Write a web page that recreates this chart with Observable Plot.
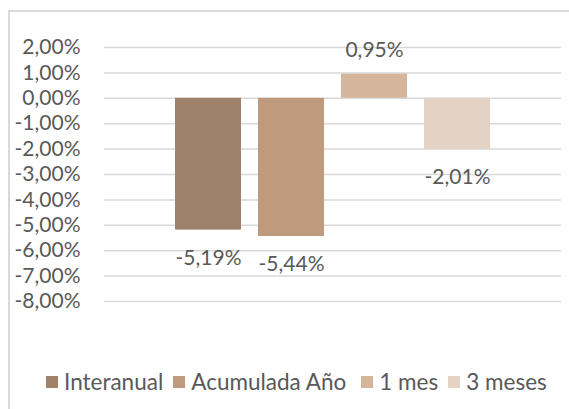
<!DOCTYPE html>
<html><head><meta charset="utf-8">
<script src="https://cdn.jsdelivr.net/npm/d3@7"></script>
<script src="https://cdn.jsdelivr.net/npm/@observablehq/plot@0.6"></script>
<style>
body{margin:0;background:#fff;font-family:Lato,sans-serif;overflow:hidden;}
#frame{position:absolute;left:8px;top:10px;width:600px;height:450px;border-left:2px solid #d9d9d9;border-top:2px solid #d9d9d9;}
#frame svg.chart{display:block;}
#legend{position:absolute;left:36px;top:356px;width:560px;}
#legend .leg-swatches{font-family:Lato,sans-serif;font-size:22.5px;color:#595959;min-height:0;flex-wrap:nowrap;}
#legend .leg-swatch{margin-right:10px;}
#legend .leg-swatch svg{margin-right:6px;}
#legend .leg-swatch:nth-child(3){margin-right:15px;}
</style></head><body><div id="frame"><div id="chart"></div><div id="legend"></div></div><script>
const series = ["Interanual", "Acumulada Año", "1 mes", "3 meses"];
const values = [-5.19, -5.44, 0.95, -2.01];
const colors = ["#a0826a", "#bf9a7c", "#d5b59b", "#e4d2c5"];
const yTicks = [2, 1, 0, -1, -2, -3, -4, -5, -6, -7, -8];
const data = series.map((s, i) => ({serie: s, value: values[i]}));
const fmt = v => v.toFixed(2).replace(".", ",") + "%";
const plot = Plot.plot({
  className: "chart",
  width: 559, height: 300,
  marginLeft: 94, marginRight: 8, marginTop: 35, marginBottom: 11,
  style: {fontFamily: "Lato, sans-serif", fontSize: "21px", color: "#595959", background: "transparent"},
  x: {domain: series, axis: null, paddingInner: 0.21, paddingOuter: 0.85},
  y: {domain: [-8, 2], label: null},
  color: {domain: series, range: colors},
  marks: [
    Plot.gridY(yTicks, {stroke: "#d9d9d9", strokeOpacity: 1, strokeWidth: 1.5}),
    Plot.axisY(yTicks, {tickFormat: fmt, tickSize: 0, tickPadding: 24, label: null, fill: "#595959"}),
    Plot.barY(data, {x: "serie", y: "value", fill: "serie"}),
    Plot.text(data.filter(d => d.value >= 0), {x: "serie", y: "value", text: d => fmt(d.value), dy: -24, fill: "#595959"}),
    Plot.text(data.filter(d => d.value < 0), {x: "serie", y: "value", text: d => fmt(d.value), dy: 28, fill: "#595959"})
  ]
});
document.getElementById("chart").appendChild(plot);
document.getElementById("legend").appendChild(plot.legend("color", {swatchSize: 12, className: "leg"}));
</script></body></html>
